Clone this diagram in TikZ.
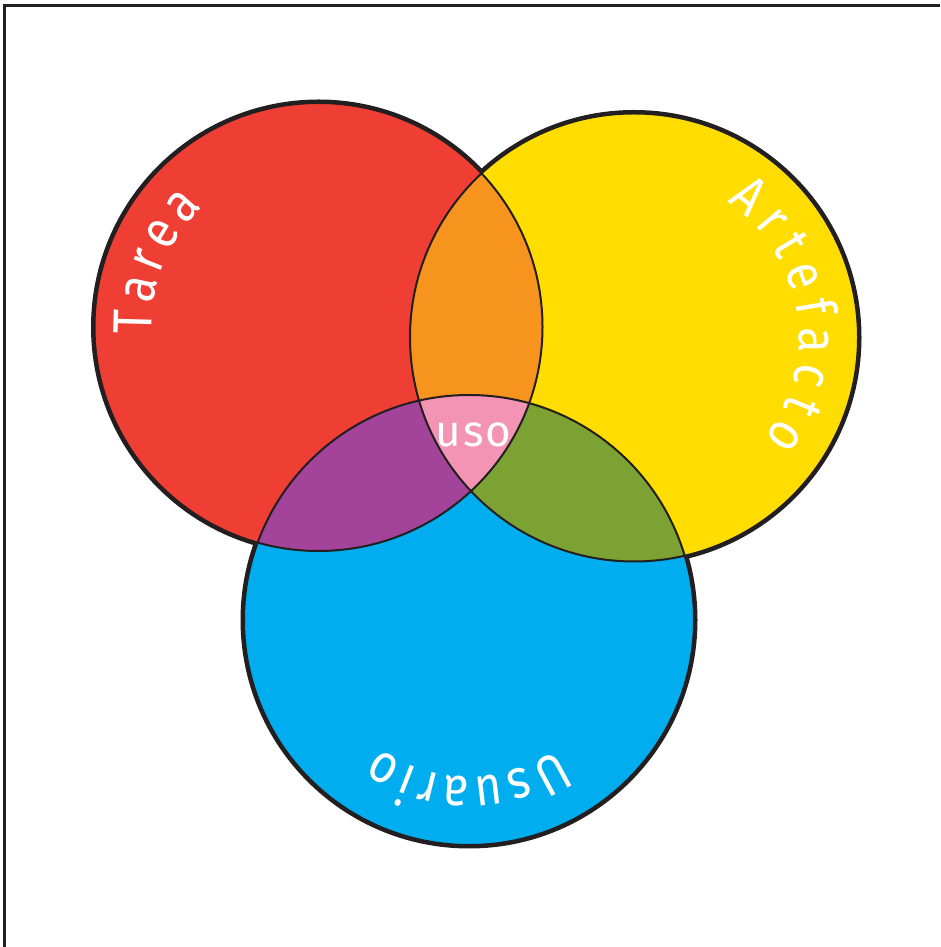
\documentclass[tikz,border=0pt]{standalone}
\usepackage{fontspec}
\newfontfamily\labfont{Fira Sans}[FakeStretch=0.85]
\newfontfamily\usofont{Fira Sans}
\usetikzlibrary{decorations.text}
\definecolor{cred}{HTML}{EF3E33}
\definecolor{cyellow}{HTML}{FFDD00}
\definecolor{cblue}{HTML}{00AEEF}
\definecolor{corange}{HTML}{F7941D}
\definecolor{cpurple}{HTML}{A3449A}
\definecolor{cgreen}{HTML}{7BA232}
\definecolor{cpink}{HTML}{F394B5}
\definecolor{cline}{HTML}{231F20}
\newcommand\arclab{\labfont\fontsize{55pt}{60pt}\selectfont\color{white}}
\begin{document}
\begin{tikzpicture}[x=1pt,y=1pt,
  outer/.style={draw=cline, line width=7pt},
  inner/.style={draw=cline, line width=2pt},
  frame/.style={draw=cline, line width=3pt},
  arclabel/.style={decorate, decoration={text along path, text align=fit to path, text={|\arclab|#1}}}
]
\useasboundingbox (0,0) rectangle (940,947);
\coordinate (R) at (318.5,620);
\coordinate (Y) at (634,609.5);
\coordinate (B) at (469,327);
\def\rr{224}
\def\rb{225}
% frame
\draw[frame] (4.5,0) -- (4.5,941.5) -- (940,941.5);
% outer strokes (visible only outside all circles)
\draw[outer] (R) circle[radius=\rr] (Y) circle[radius=\rr] (B) circle[radius=\rb];
% fills
\fill[cred] (R) circle[radius=\rr];
\fill[cyellow] (Y) circle[radius=\rr];
\fill[cblue] (B) circle[radius=\rb];
\begin{scope}
  \clip (R) circle[radius=\rr];
  \fill[corange] (Y) circle[radius=\rr];
  \fill[cpurple] (B) circle[radius=\rb];
  \clip (Y) circle[radius=\rr];
  \fill[cpink] (B) circle[radius=\rb];
\end{scope}
\begin{scope}
  \clip (Y) circle[radius=\rr];
  \clip (B) circle[radius=\rb];
  \fill[cgreen] (Y) circle[radius=\rr];
  \clip (R) circle[radius=\rr];
  \fill[cpink] (B) circle[radius=\rb];
\end{scope}
% inner strokes
\draw[inner] (R) circle[radius=\rr] (Y) circle[radius=\rr] (B) circle[radius=\rb];
% labels
\path[arclabel=Tarea] (R) ++(182.5:167) arc[start angle=182.5, end angle=134, radius=167];
\path[arclabel=Artefacto] (Y) ++(55.5:165) arc[start angle=55.5, end angle=-38, radius=165];
\path[arclabel=Usuario] (B) ++(-56:157) arc[start angle=-56, end angle=-125, radius=157];
\node[anchor=base, text=white, font=\usofont\fontsize{44pt}{48pt}\selectfont, inner sep=0pt] (uso) at (473.5,500) {u\kern2pt s\kern2pt o};
\end{tikzpicture}
\end{document}
